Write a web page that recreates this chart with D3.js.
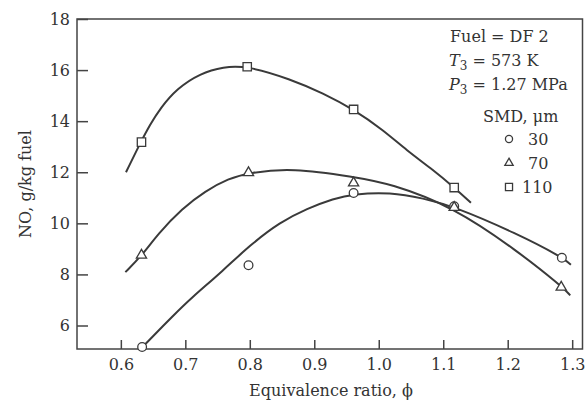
<!DOCTYPE html>
<meta charset="utf-8">
<html lang="en">
<head>
    <title>NO vs equivalence ratio</title>
    <script type="text/javascript" src="https://d3js.org/d3.v7.min.js"></script>
</head>
<style>
    body { margin: 0; background: #fff; }
    text { font-family: "DejaVu Serif", "Liberation Serif", serif; fill: #333; }
    .tick text { font-size: 16px; }
    .axis path { stroke: none; }
    .axis line { stroke: #444; stroke-width: 1.5px; }
    .frame { fill: none; stroke: #444; stroke-width: 1.5px; }
    .curve { fill: none; stroke: #3a3a3a; stroke-width: 2px; }
    .mark { fill: #fff; stroke: #3a3a3a; stroke-width: 1.3px; }
    .label { font-size: 16px; }
    .legend { font-size: 16px; }
</style>
<body>
<script>
    // measured points (SMD 30, 70, 110 micron)
    var phi30 = [0.633, 0.798, 0.961, 1.117, 1.284];
    var no30 = [5.16, 8.36, 11.19, 10.67, 8.65];
    var phi70 = [0.632, 0.798, 0.961, 1.117, 1.283];
    var no70 = [8.75, 11.98, 11.58, 10.62, 7.5];
    var phi110 = [0.632, 0.796, 0.961, 1.117];
    var no110 = [13.18, 16.13, 14.46, 11.4];

    // fitted curves
    var curve30 = [[0.634, 5.17], [0.684, 6.46], [0.708, 7.05], [0.759, 8.16], [0.8, 9.14], [0.847, 10.05],
        [0.889, 10.58], [0.93, 10.97], [0.961, 11.15], [1.018, 11.22], [1.069, 10.98], [1.117, 10.66],
        [1.214, 9.6], [1.284, 8.68], [1.298, 8.38]];
    var curve70 = [[0.607, 8.09], [0.632, 8.72], [0.658, 9.6], [0.695, 10.58], [0.731, 11.27], [0.767, 11.75],
        [0.798, 11.98], [0.866, 12.17], [0.961, 11.82], [1.018, 11.56], [1.116, 10.64], [1.214, 8.94],
        [1.283, 7.55], [1.297, 7.18]];
    var curve110 = [[0.608, 12.0], [0.631, 13.19], [0.645, 13.85], [0.661, 14.5], [0.687, 15.28], [0.723, 15.87],
        [0.759, 16.13], [0.795, 16.17], [0.863, 15.65], [0.914, 15.09], [0.961, 14.46], [1.007, 13.65],
        [1.043, 12.86], [1.085, 12.08], [1.117, 11.4], [1.143, 10.81]];

    var xTicks = [0.6, 0.7, 0.8, 0.9, 1.0, 1.1, 1.2, 1.3];
    var yTicks = [6, 8, 10, 12, 14, 16, 18];
    var smdLabels = ["30", "70", "110"];

    var W = 585, H = 408;
    var margin = {top: 19, right: 2.5, bottom: 59, left: 77};

    var svg = d3.select("body").append("svg").attr("width", W).attr("height", H);

    var x = d3.scaleLinear().domain([0.532, 1.316]).range([margin.left, W - margin.right]);
    var y = d3.scaleLinear().domain([5.08, 18]).range([H - margin.bottom, margin.top]);

    svg.append("rect").attr("class", "frame")
        .attr("x", x.range()[0]).attr("y", y.range()[1])
        .attr("width", x.range()[1] - x.range()[0])
        .attr("height", y.range()[0] - y.range()[1]);

    svg.append("g").attr("class", "axis")
        .attr("transform", "translate(0," + y.range()[0] + ")")
        .call(d3.axisBottom(x).tickValues(xTicks).tickSize(-9).tickPadding(10).tickFormat(d3.format(".1f")));

    svg.append("g").attr("class", "axis")
        .attr("transform", "translate(" + x.range()[0] + ",0)")
        .call(d3.axisLeft(y).tickValues(yTicks).tickSize(-11).tickPadding(7));

    svg.append("text").attr("class", "label")
        .attr("x", 331).attr("y", 396).attr("text-anchor", "middle")
        .text("Equivalence ratio, \u03d5");

    svg.append("text").attr("class", "label")
        .attr("transform", "translate(31," + ((y.range()[0] + y.range()[1]) / 2) + ") rotate(-90)")
        .attr("text-anchor", "middle")
        .text("NO, g/kg fuel");

    var line = d3.line().x(d => x(d[0])).y(d => y(d[1])).curve(d3.curveBasis);
    [curve30, curve70, curve110].forEach(function (c) {
        svg.append("path").attr("class", "curve").attr("d", line(c));
    });

    var circle = d3.symbol().type(d3.symbolCircle).size(60);
    var tri = d3.symbol().type(d3.symbolTriangle).size(45);
    var square = d3.symbol().type(d3.symbolSquare).size(70);

    function marks(px, py, sym) {
        svg.append("g").selectAll("path").data(px).join("path")
            .attr("class", "mark")
            .attr("transform", (d, i) => "translate(" + x(d) + "," + y(py[i]) + ")")
            .attr("d", sym);
    }
    marks(phi30, no30, circle);
    marks(phi70, no70, tri);
    marks(phi110, no110, square);

    // legend
    var lg = svg.append("g").attr("class", "legend");
    lg.append("text").attr("x", 450).attr("y", 42).text("Fuel = DF 2");
    var t3 = lg.append("text").attr("x", 449).attr("y", 66);
    t3.append("tspan").style("font-style", "italic").text("T");
    t3.append("tspan").attr("dy", 4).style("font-size", "12px").text("3");
    t3.append("tspan").attr("dy", -4).text(" = 573 K");
    var p3 = lg.append("text").attr("x", 449).attr("y", 90);
    p3.append("tspan").style("font-style", "italic").text("P");
    p3.append("tspan").attr("dy", 4).style("font-size", "12px").text("3");
    p3.append("tspan").attr("dy", -4).text(" = 1.27 MPa");
    lg.append("text").attr("x", 483).attr("y", 122).text("SMD, \u03bcm");

    var syms = [d3.symbol().type(d3.symbolCircle).size(40), d3.symbol().type(d3.symbolTriangle).size(30),
        d3.symbol().type(d3.symbolSquare).size(50)];
    smdLabels.forEach(function (s, i) {
        var cy = 139 + i * 24;
        lg.append("path").attr("class", "mark").attr("transform", "translate(509," + cy + ")").attr("d", syms[i]);
        lg.append("text").attr("x", i == 2 ? 522 : 528).attr("y", cy + 6).text(s);
    });
</script>
</body>
</html>
